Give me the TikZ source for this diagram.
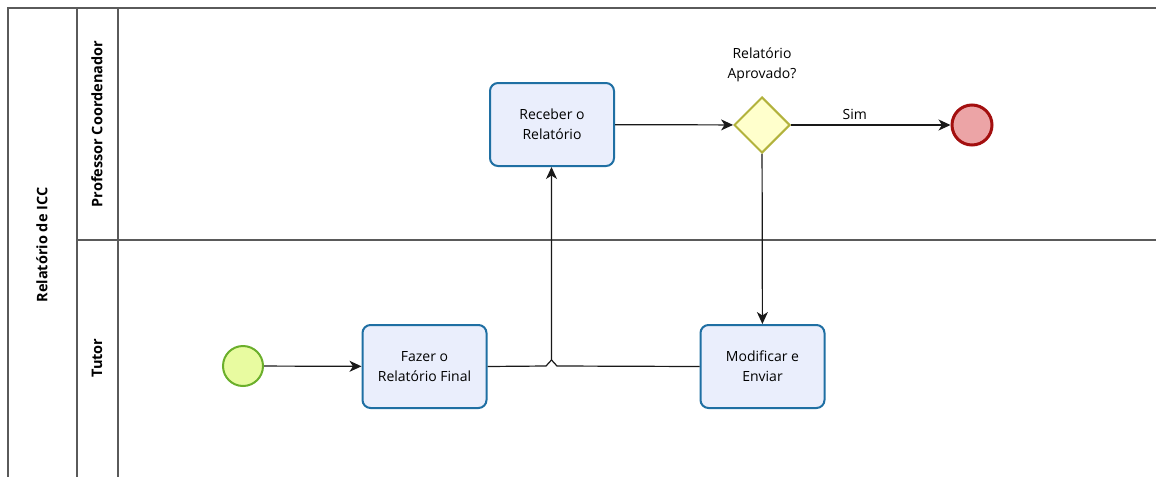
\documentclass[tikz,border=0pt]{standalone}
\usepackage{fontspec}
\setmainfont{Open Sans}
\usetikzlibrary{arrows.meta,shapes.geometric}
\definecolor{poolline}{HTML}{5A5A5A}
\definecolor{taskfill}{HTML}{EAEEFC}
\definecolor{taskline}{HTML}{1F6FA3}
\definecolor{startfill}{HTML}{E8FBA0}
\definecolor{startline}{HTML}{6BAF2B}
\definecolor{gatefill}{HTML}{FFFFCC}
\definecolor{gateline}{HTML}{B2B23C}
\definecolor{endfill}{HTML}{ECA4A6}
\definecolor{endline}{HTML}{A30F0F}
\tikzset{
  pool/.style={draw=poolline, line width=1.4pt},
  task/.style={draw=taskline, fill=taskfill, line width=2pt, rounded corners=8pt,
    minimum width=124pt, minimum height=83pt, align=center, font=\fontsize{14}{20}\selectfont},
  startev/.style={circle, draw=startline, fill=startfill, line width=2pt, minimum size=40pt, inner sep=0pt},
  endev/.style={circle, draw=endline, fill=endfill, line width=3pt, minimum size=40pt, inner sep=0pt},
  gate/.style={diamond, draw=gateline, fill=gatefill, line width=2pt, minimum width=56pt, minimum height=56pt, inner sep=0pt},
  flow/.style={draw=black!90, line width=1.2pt, -{Stealth[length=12pt,width=11pt,inset=3.5pt]}},
  plainflow/.style={draw=black!90, line width=1.2pt},
  lanelabel/.style={rotate=90, font=\bfseries\fontsize{14.5}{16}\selectfont},
  txt/.style={font=\fontsize{14}{20}\selectfont, align=center}
}
\begin{document}
\begin{tikzpicture}[x=1pt,y=-1pt]
\useasboundingbox (0,0) rectangle (1156,477);
\fill[white] (0,0) rectangle (1156,477);
% pool and lane frame
\draw[pool] (1156,8) -- (8,8) -- (8,477);
\draw[pool] (77,8) -- (77,477);
\draw[pool] (118,8) -- (118,477);
\draw[pool] (77,240) -- (1156,240);
\node[lanelabel] (pool) at (42,245) {Relatório de ICC};
\node[lanelabel] (lane1) at (97,124) {Professor Coordenador};
\node[lanelabel] (lane2) at (97,358) {Tutor};
% flow elements
\node[startev] (start) at (243,366) {};
\node[task] (fazer) at (424.5,366.5) {Fazer o\\Relatório Final};
\node[task] (receber) at (552,124.5) {Receber o\\Relatório};
\node[task] (modificar) at (762.5,366.5) {Modificar e\\Enviar};
\node[gate] (gate) at (762,125) {};
\node[endev] (end) at (972,125) {};
\node[txt] (gatelabel) at (762,65) {Relatório\\Aprovado?};
% connectors
\coordinate (hopL) at (546,366);
\coordinate (hopT) at (551.5,360);
\coordinate (hopR) at (557,366);
\draw[flow] (start) -- (fazer);
\draw[flow] (fazer.east) -- (hopL) -- (hopT) -- (hopT |- receber.south);
\draw[plainflow] (modificar.west) -- (hopR) -- (hopT);
\draw[flow] (receber) -- (gate);
\draw[flow] (gate) -- node[txt, above=1pt, pos=0.4] (sim) {Sim} (end);
\draw[flow] (gate) -- (modificar);
\end{tikzpicture}
\end{document}
